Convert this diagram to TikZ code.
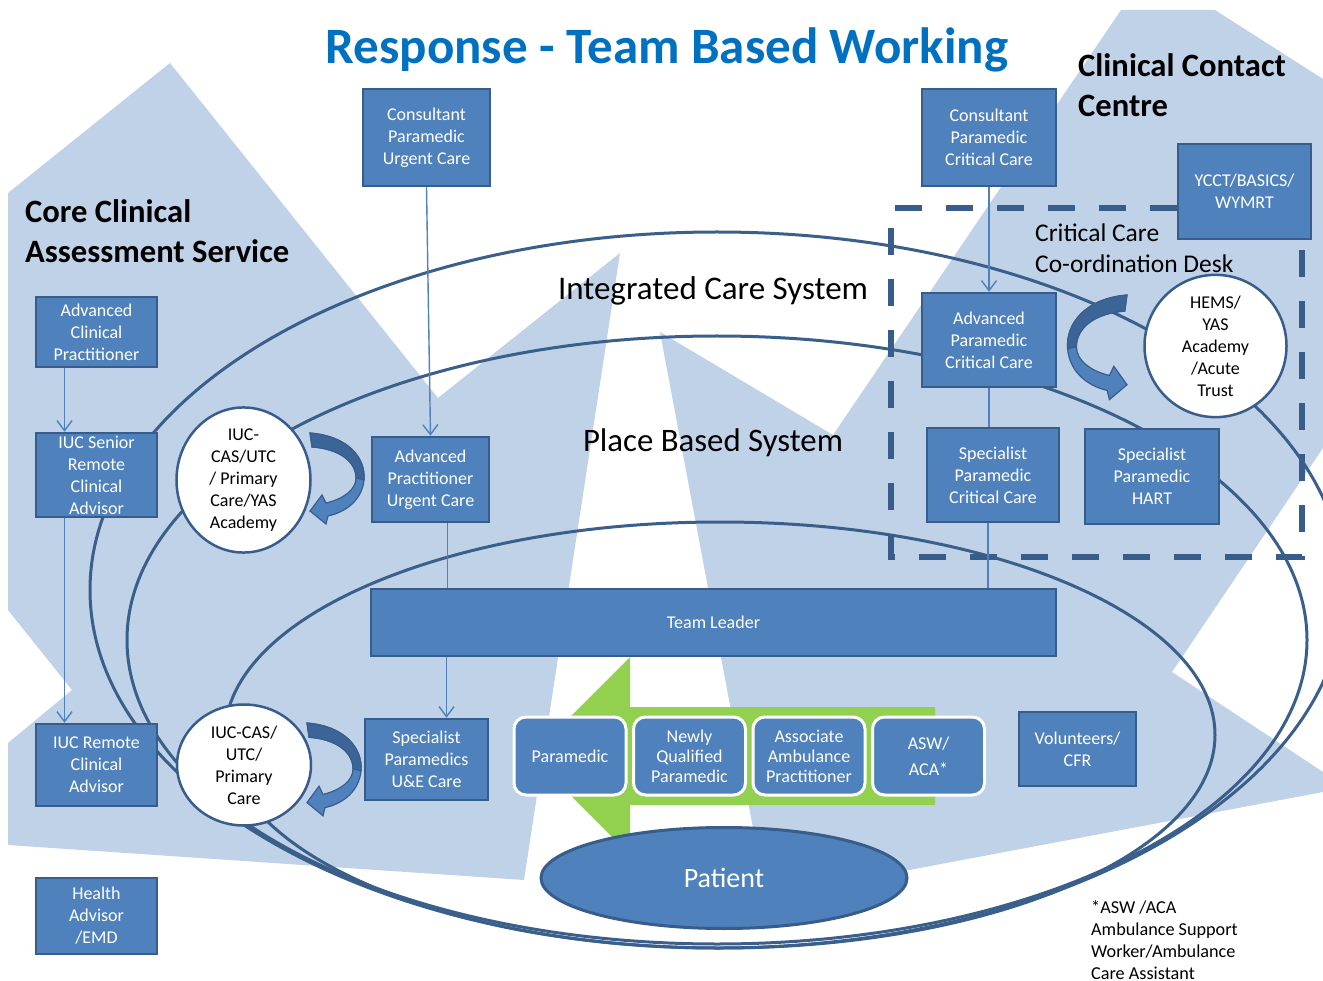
\documentclass[tikz,border=0pt]{standalone}
\usepackage{fontspec}
\setmainfont{Carlito}
\usetikzlibrary{arrows.meta,shapes.geometric,calc}
\definecolor{bgblue}{RGB}{192,210,232}
\definecolor{boxblue}{RGB}{79,129,189}
\definecolor{bdr}{RGB}{56,93,138}
\definecolor{ringc}{RGB}{58,95,139}
\definecolor{grn}{RGB}{146,208,80}
\definecolor{ttl}{RGB}{0,112,192}
\definecolor{arrdark}{RGB}{59,100,151}
\begin{document}
\begin{tikzpicture}[x=1pt,y=-1pt,
  box/.style={draw=bdr, fill=boxblue, line width=2.5pt, inner sep=0pt, text=white, align=center, font=\fontsize{18}{22}\selectfont},
  rbox/.style={draw=white, fill=boxblue, line width=3pt, rounded corners=12pt, inner sep=0pt, minimum width=112pt, minimum height=78pt, text=white, align=center, font=\fontsize{18}{20}\selectfont},
  circ/.style={ellipse, draw=bdr, fill=white, line width=2.5pt, inner sep=0pt, align=center, font=\fontsize{18}{22}\selectfont},
  ring/.style={draw=ringc, line width=3pt},
  conn/.style={draw=boxblue, line width=1.4pt},
  arr/.style={conn, -{Straight Barb[length=10pt,width=15pt]}},
  carrow/.style={fill=boxblue, draw=bdr, line width=1.2pt},
  lbl/.style={inner sep=0pt, text=black}
]
\useasboundingbox (0,0) rectangle (1323,981);
\clip (0,0) rectangle (1323,981);
\fill[white] (0,0) rectangle (1323,981);
% background shapes
\fill[bgblue] (8,193) -- (170,63) -- (438,398) -- (620,253) -- (524,880) -- (8,845) -- (8,743) -- (72,690) -- (8,610) -- cycle;
\fill[bgblue] (660,332) -- (833,435) -- (1121,10) -- (1215,10) -- (1323,79) -- (1323,448) -- (1172,672) -- (1323,772) -- (1323,792) -- (766,897) -- cycle;
% system rings
\draw[ring] (717,590) ellipse [x radius=627, y radius=358];
\draw[ring] (717,640) ellipse [x radius=590, y radius=304];
\draw[ring] (720,735) ellipse [x radius=495, y radius=213];
% critical care desk
\draw[bdr, line width=5.5pt, dash pattern=on 27pt off 24pt] (1177,208) -- (891,208) -- (891,557) -- (1302,557) -- (1302,240);
% green arrow
\fill[grn] (531,756) -- (630,657) -- (630,707) -- (935,707) -- (935,805) -- (630,805) -- (630,855) -- cycle;
% patient
\node[ellipse, draw=bdr, fill=boxblue, line width=3pt, minimum width=366pt, minimum height=101pt, inner sep=0pt, text=white, font=\fontsize{28}{34}\selectfont] (pat) at (724,878) {Patient};
% boxes
\node[box, minimum width=127pt, minimum height=97pt] (cpuc) at (426.5,137.5) {Consultant\\Paramedic\\Urgent Care};
\node[box, minimum width=134pt, minimum height=97pt] (cpcc) at (989,137.5) {Consultant\\Paramedic\\Critical Care};
\node[box, minimum width=133pt, minimum height=95pt] (ycct) at (1244.5,191.5) {YCCT/BASICS/\\WYMRT};
\node[box, minimum width=121pt, minimum height=70pt] (acp) at (96.5,332) {Advanced\\Clinical\\Practitioner};
\node[box, minimum width=121pt, minimum height=84pt] (iucs) at (96.5,475) {IUC Senior\\Remote\\Clinical\\Advisor};
\node[box, minimum width=117pt, minimum height=85pt] (apuc) at (430.5,479.5) {Advanced\\Practitioner\\Urgent Care};
\node[box, minimum width=134pt, minimum height=94pt] (apcc) at (989,340) {Advanced\\Paramedic\\Critical Care};
\node[box, minimum width=132pt, minimum height=94pt] (spcc) at (993,475) {Specialist\\Paramedic\\Critical Care};
\node[box, minimum width=134pt, minimum height=95pt] (hart) at (1152,476.5) {Specialist\\Paramedic\\HART};
\node[box, minimum width=685pt, minimum height=67pt] (tl) at (713.5,622.5) {Team Leader};
\node[box, minimum width=121pt, minimum height=82pt] (iucr) at (96.5,765) {IUC Remote\\Clinical\\Advisor};
\node[box, minimum width=123pt, minimum height=81pt] (spue) at (426.5,759.5) {Specialist\\Paramedics\\U\&E Care};
\node[box, minimum width=117pt, minimum height=74pt] (vol) at (1077.5,749) {Volunteers/\\CFR};
\node[box, minimum width=121pt, minimum height=76pt] (ha) at (96.5,916) {Health\\Advisor\\/EMD};
% team boxes on the arrow
\node[rbox] (para) at (570,756) {Paramedic};
\node[rbox] (nqp) at (689.5,756) {Newly\\Qualified\\Paramedic};
\node[rbox] (aap) at (809,756) {Associate\\Ambulance\\Practitioner};
\node[rbox] (asw) at (928.5,756) {ASW/\\[6pt]ACA*};
% circles
\node[circ, minimum width=134pt, minimum height=121pt] (c1) at (243.5,480) {IUC-\\CAS/UTC\\/ Primary\\Care/YAS\\Academy};
\node[circ, minimum width=134pt, minimum height=121pt] (c2) at (244,765) {IUC-CAS/\\UTC/\\Primary\\Care};
\node[circ, minimum width=142pt, minimum height=113pt] (hems) at (1215.5,346) {HEMS/\\YAS\\Academy\\/Acute\\Trust};
% connectors
\draw[arr] (cpuc.south) -- (apuc.north);
\draw[arr] (cpcc.south) -- (apcc.north);
\draw[arr] ([xshift=-32pt]acp.south) -- ([xshift=-32pt]acp.south |- iucs.north);
\draw[arr] ([xshift=-32pt]iucs.south) -- ([xshift=-32pt]iucs.south |- iucr.north);
\draw[conn] ([xshift=17pt]apuc.south) -- ([xshift=17pt]apuc.south |- tl.north);
\draw[arr] ([xshift=20pt]spue.north |- tl.south) -- ([xshift=20pt]spue.north);
\draw[conn] (apcc.south) -- (apcc.south |- spcc.north);
\draw[conn] ([xshift=-5pt]spcc.south) -- ([xshift=-5pt]spcc.south |- tl.north);
% curved arrows
\foreach \sx/\sy/\xs/\ys in {310/433/1/1, 307/723/1/1.02, 1127/295/-1.1/1.15}{
  \begin{scope}[shift={(\sx,\sy)}, xscale=\xs, yscale=\ys]
    \filldraw[carrow] (0,0) .. controls (38,3) and (56,25) .. (54,47) .. controls (52,67) and (36,79) .. (18,83) -- (16,91) -- (0,78) -- (12,62) -- (16,70) .. controls (33,66) and (46,57) .. (46,45) .. controls (46,29) and (30,16) .. (2,14) -- cycle;
    \filldraw[fill=arrdark, draw=bdr, line width=1pt] (0,0) .. controls (38,3) and (56,25) .. (54,47) -- (46,45) .. controls (46,29) and (30,16) .. (2,14) -- cycle;
  \end{scope}
}
% labels
\node[lbl, anchor=base, text=ttl, font=\bfseries\fontsize{51}{60}\selectfont] (title) at (667,64) {Response - Team Based Working};
\node[lbl, anchor=base west, font=\bfseries\fontsize{32.6}{40}\selectfont] (ccas) at (25,223) {\begin{tabular}[t]{@{}l@{}}Core Clinical\\Assessment Service\end{tabular}};
\node[lbl, anchor=base west, font=\bfseries\fontsize{32.6}{40}\selectfont] (ccc) at (1078,77) {\begin{tabular}[t]{@{}l@{}}Clinical Contact\\Centre\end{tabular}};
\node[lbl, anchor=base, font=\fontsize{33}{39}\selectfont] (ics) at (713,300) {Integrated Care System};
\node[lbl, anchor=base, font=\fontsize{32.8}{39}\selectfont] (pbs) at (713,452) {Place Based System};
\node[lbl, anchor=base west, font=\fontsize{25.5}{31}\selectfont] (ccd) at (1035,242) {\begin{tabular}[t]{@{}l@{}}Critical Care\\Co-ordination Desk\end{tabular}};
\node[lbl, anchor=base west, font=\fontsize{18.2}{22}\selectfont] (foot) at (1091,913) {\begin{tabular}[t]{@{}l@{}}*ASW /ACA\\Ambulance Support\\Worker/Ambulance\\Care Assistant\end{tabular}};
\end{tikzpicture}
\end{document}
